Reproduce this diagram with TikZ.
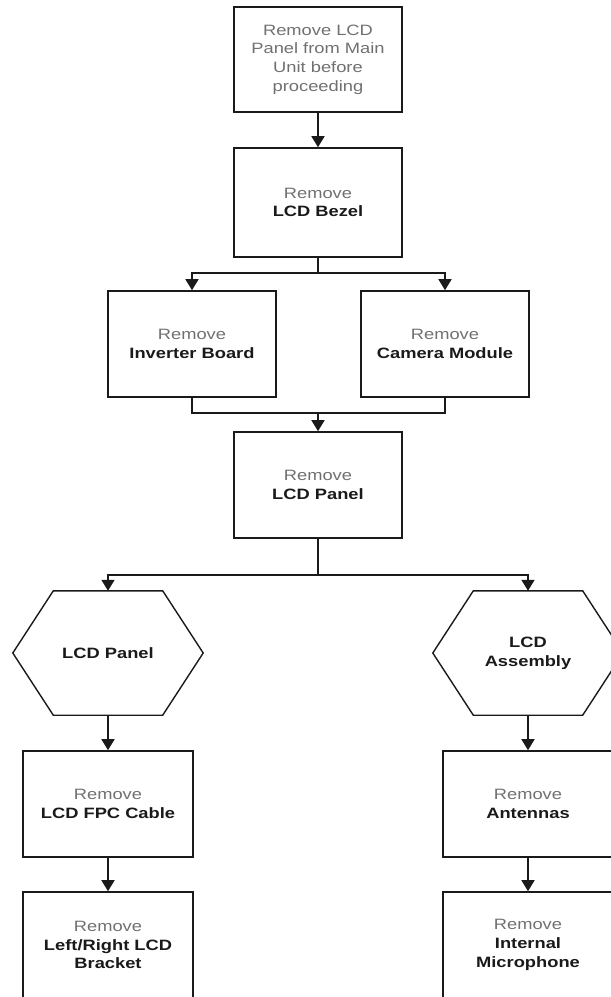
\documentclass[tikz,border=0pt]{standalone}
\usepackage{fontspec}
\setmainfont{Liberation Sans}[FakeStretch=1.22]
\usetikzlibrary{arrows.meta,calc}
\definecolor{remgray}{HTML}{707070}
\definecolor{ink}{HTML}{1A1A1A}
\newcommand\remtxt{\textcolor{remgray}{Remove}}
\begin{document}
\begin{tikzpicture}[x=1pt,y=-1pt,
  txt/.style={font=\fontsize{15pt}{18.7pt}\selectfont, text=ink, align=center, inner sep=0pt},
  box/.style={txt, draw=ink, line width=1.6pt, minimum width=168pt, minimum height=106pt},
  lowbox/.style={box, minimum width=170pt},
  hexlbl/.style={txt, minimum width=109pt, minimum height=124pt},
  hexline/.style={draw=ink, line width=1.4pt, line join=miter},
  conn/.style={draw=ink, line width=1.6pt},
  arr/.style={conn, -{Triangle[width=13pt,length=11pt]}}
]
\useasboundingbox (0,0) rectangle (611,997);
\clip (0,0) rectangle (611,997);

% boxes
\node[box, minimum height=105pt, text=remgray] (b1) at (318,59.5) {Remove LCD\\Panel from Main\\Unit before\\proceeding};
\node[box, minimum height=109pt] (b2) at (318,202.5) {\remtxt\\\textbf{LCD Bezel}};
\node[box] (inv) at (192,344) {\remtxt\\\textbf{Inverter Board}};
\node[box] (cam) at (445,344) {\remtxt\\\textbf{Camera Module}};
\node[box] (b5) at (318,485) {\remtxt\\\textbf{LCD Panel}};

% hexagons
\node[hexlbl] (hl) at (108,653) {\textbf{LCD Panel}};
\node[hexlbl] (hr) at (528,653) {\textbf{LCD}\\\textbf{Assembly}};
\foreach \h in {hl,hr}{
  \draw[hexline] (\h.north west) -- (\h.north east) -- ($(\h.east)+(40.5,0)$)
    -- (\h.south east) -- (\h.south west) -- ($(\h.west)+(-40.5,0)$) -- cycle;
}

% lower boxes
\node[lowbox] (fpc) at (108,804) {\remtxt\\\textbf{LCD FPC Cable}};
\node[lowbox] (brk) at (108,945) {\remtxt\\\textbf{Left/Right LCD}\\\textbf{Bracket}};
\node[lowbox] (ant) at (528,804) {\remtxt\\\textbf{Antennas}};
\node[lowbox] (mic) at (528,945) {\remtxt\\\textbf{Internal}\\\textbf{Microphone}};

% junction points
\coordinate (j1) at ($(b2.south)+(0,15)$);
\coordinate (j2) at ($(b5.north)+(0,-18)$);
\coordinate (j3) at ($(b5.south)+(0,36)$);

% connectors
\draw[arr] (b1.south) -- (b2.north);
\draw[conn] (b2.south) -- (j1);
\draw[arr] (j1) -| (inv.north);
\draw[arr] (j1) -| (cam.north);
\draw[conn] (inv.south) |- (j2) -| (cam.south);
\draw[arr] (j2) -- (b5.north);
\draw[conn] (b5.south) -- (j3);
\draw[arr] (j3) -| (hl.north);
\draw[arr] (j3) -| (hr.north);
\draw[arr] (hl.south) -- (fpc.north);
\draw[arr] (fpc.south) -- (brk.north);
\draw[arr] (hr.south) -- (ant.north);
\draw[arr] (ant.south) -- (mic.north);
\end{tikzpicture}
\end{document}
